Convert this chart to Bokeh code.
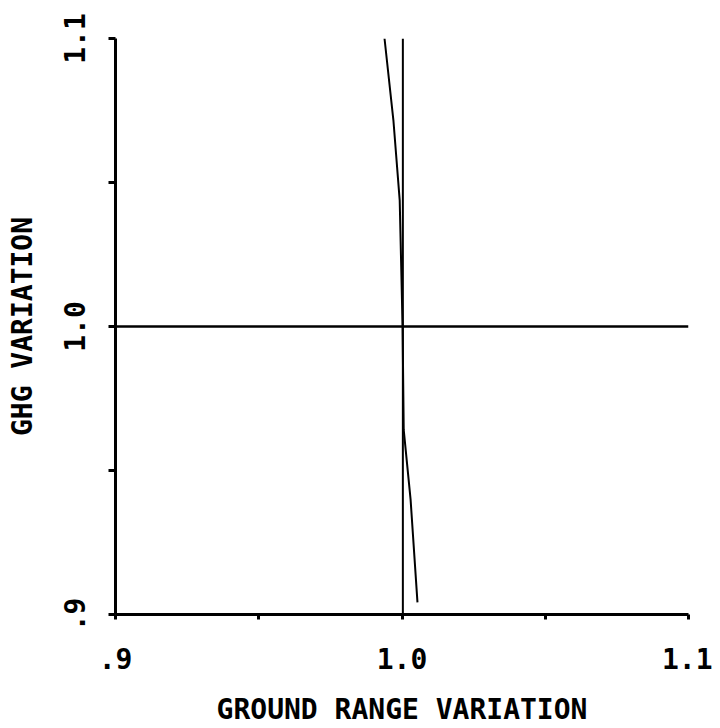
from bokeh.plotting import figure
from bokeh.models import FixedTicker, Range1d
from bokeh.embed import file_html
from bokeh.resources import INLINE

# Data
x_ticks = [0.9, 0.95, 1.0, 1.05, 1.1]
x_tick_labels = {0.9: ".9", 0.95: "", 1.0: "1.0", 1.05: "", 1.1: "1.1"}
y_ticks = [0.9, 0.95, 1.0, 1.05, 1.1]
y_tick_labels = {0.9: ".9", 0.95: "", 1.0: "1.0", 1.05: "", 1.1: "1.1"}

# horizontal reference line at GHG = 1.0
h_x = [0.9, 1.1]
h_y = [1.0, 1.0]
# vertical reference line at ground range ~ 1.0
v_x = [1.0003, 1.0003]
v_y = [0.9, 1.1]
# sloped curve
c_x = [0.9939, 0.9970, 0.9992, 1.0002, 1.0006, 1.0030, 1.0054]
c_y = [1.1, 1.0716, 1.0438, 1.0, 0.9641, 0.9399, 0.9042]

FONT = "DejaVu Sans Mono"

p = figure(width=712, height=728, output_backend="svg", toolbar_location=None,
           x_range=Range1d(0.9, 1.1), y_range=Range1d(0.9, 1.1),
           min_border_left=115, min_border_top=38, min_border_right=24, min_border_bottom=113)
p.outline_line_color = None
p.grid.visible = False
p.background_fill_color = "white"

p.line(h_x, h_y, line_color="black", line_width=2.5)
p.line(v_x, v_y, line_color="black", line_width=2)
p.line(c_x, c_y, line_color="black", line_width=2)

p.xaxis.ticker = FixedTicker(ticks=x_ticks, minor_ticks=[])
p.xaxis.major_label_overrides = x_tick_labels
p.yaxis.ticker = FixedTicker(ticks=y_ticks, minor_ticks=[])
p.yaxis.major_label_overrides = y_tick_labels

p.xaxis.axis_label = "GROUND RANGE VARIATION"
p.yaxis.axis_label = "GHG VARIATION"

for ax in (p.xaxis, p.yaxis):
    ax.axis_line_color = "black"
    ax.axis_line_width = 3
    ax.major_tick_line_color = "black"
    ax.major_tick_line_width = 3
    ax.major_tick_in = 0
    ax.minor_tick_line_color = None
    ax.major_label_text_font = FONT
    ax.major_label_text_font_style = "bold"
    ax.major_label_text_font_size = "28px"
    ax.major_label_text_color = "black"
    ax.axis_label_text_font = FONT
    ax.axis_label_text_font_style = "bold"
    ax.axis_label_text_font_size = "28px"
    ax.axis_label_text_color = "black"

p.xaxis.major_tick_out = 5
p.xaxis.major_label_standoff = 28
p.xaxis.axis_label_standoff = 21
p.yaxis.major_tick_out = 7
p.yaxis.major_label_orientation = "vertical"
p.yaxis.major_label_standoff = 24
p.yaxis.axis_label_standoff = 22

open("out.html", "w").write(file_html(p, INLINE))
